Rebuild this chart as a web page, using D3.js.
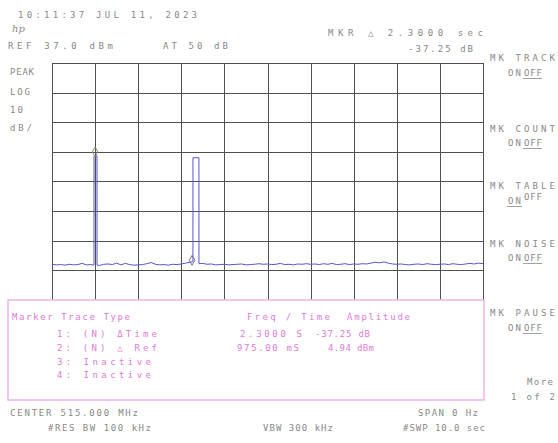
<!DOCTYPE html>
<html>
<head>
<meta charset="utf-8">
<script src="https://cdn.jsdelivr.net/npm/d3@7"></script>
<style>
  body { margin: 0; background: #fff; }
  text { font-family: "DejaVu Sans Mono", monospace; font-size: 9px; }
</style>
</head>
<body>
<script>
// развертка по времени: 0..10 с, 10 дБ/дел, опорный уровень 37 дБм
const sweepTime = [0, 10];
const refLevel = 37.0;
const dbPerDiv = 10;
const timeTicks = [0, 1, 2, 3, 4, 5, 6, 7, 8, 9, 10];
const levelTicks = [37, 27, 17, 7, -3, -13, -23, -33, -43, -53, -63];

// шумовая дорожка, отсчеты через 0.1 с (дБм)
const noiseLevel = [
  -31.0, -31.2, -31.1, -31.3, -31.0, -31.2, -31.1, -30.7, -31.2, -31.1,
  -31.3, -31.4, -31.0, -30.9, -31.1, -30.6, -31.2, -30.7, -31.1, -31.3,
  -31.2, -31.1, -30.8, -30.4, -31.0, -31.2, -31.1, -31.3, -31.0, -31.1,
  -30.9, -30.6, -30.3, -30.1, -30.8, -30.7, -31.0, -30.9, -31.2, -31.1,
  -31.0, -31.2, -31.1, -31.0, -30.9, -31.2, -31.1, -31.0, -30.8, -31.0,
  -30.9, -31.1, -31.0, -30.7, -31.1, -31.0, -31.2, -30.9, -31.0, -30.8,
  -31.0, -30.9, -31.1, -30.8, -31.0, -30.7, -31.1, -31.0, -30.8, -31.1,
  -30.9, -31.0, -30.8, -30.9, -30.6, -30.3, -30.5, -30.2, -30.6, -30.9,
  -31.0, -30.9, -31.1, -31.2, -31.0, -30.9, -31.1, -30.8, -31.0, -31.1,
  -31.0, -30.9, -31.1, -30.8, -31.0, -31.1, -30.9, -30.7, -30.9, -30.6,
  -30.8
];
const noiseStep = 0.1;

// импульсы: начало, конец (с), уровень (дБм)
const pulseStart = [0.975, 3.27];
const pulseEnd = [1.045, 3.41];
const pulseLevel = [5.6, 5.0];

// маркеры
const markerTime = [1.0, 3.25];
const markerLevel = [5.6, -31.0];

// тексты
const dateText = "10:11:37 JUL 11, 2023";
const refText = "REF 37.0 dBm";
const attenText = "AT 50 dB";
const mkrText = "MKR \u25B3 2.3000  sec";
const mkrValueText = "-37.25 dB";
const leftLabels = ["PEAK", "LOG", "10", "dB/"];
const softkeys = ["MK TRACK", "MK COUNT", "MK TABLE", "MK NOISE", "MK PAUSE"];
const softkeyState = ["OFF", "OFF", "ON", "OFF", "OFF"];
const tableHeader = ["Marker Trace Type", "Freq / Time", "Amplitude"];
const tableRows = [
  ["1: (N) \u0394Time", "2.3000  S", "-37.25 dB"],
  ["2: (N) \u25B3 Ref", "975.00 mS", "4.94 dBm"],
  ["3: Inactive", "", ""],
  ["4: Inactive", "", ""]
];
const bottomTexts = ["CENTER 515.000 MHz", "SPAN 0 Hz", "#RES BW 100 kHz", "VBW 300 kHz", "#SWP 10.0  sec"];

const W = 558, H = 443;
const svg = d3.select("body").append("svg").attr("width", W).attr("height", H);

const gLeft = 52, gRight = 483, gTop = 63, gBottom = 359;
const x = d3.scaleLinear().domain(sweepTime).range([gLeft, gRight]);
const y = d3.scaleLinear().domain([refLevel - 10 * dbPerDiv, refLevel]).range([gBottom, gTop]);

const gray = "#888";
const pink = "#e07ad8";
const gridColor = "#505050";
const traceColor = "#5656cc";

// сетка через оси
const gx = svg.append("g").attr("transform", `translate(0,${gBottom})`)
  .call(d3.axisBottom(x).tickValues(timeTicks).tickSize(-(gBottom - gTop)).tickFormat(""));
const gy = svg.append("g").attr("transform", `translate(${gLeft},0)`)
  .call(d3.axisLeft(y).tickValues(levelTicks).tickSize(-(gRight - gLeft)).tickFormat(""));
[gx, gy].forEach(g => {
  g.select(".domain").remove();
  g.selectAll(".tick line").attr("stroke", gridColor).attr("stroke-width", 1).attr("shape-rendering", "crispEdges");
});

// собираем точки трассы
let points = [];
noiseLevel.forEach((v, i) => {
  const t = i * noiseStep;
  let inside = false;
  pulseStart.forEach((s, k) => { if (t >= s && t <= pulseEnd[k]) inside = true; });
  if (!inside) points.push({t: t, v: v});
});
pulseStart.forEach((s, k) => {
  const base = noiseLevel[Math.round(s / noiseStep)];
  const baseEnd = noiseLevel[Math.round(pulseEnd[k] / noiseStep)];
  points.push({t: s, v: base});
  points.push({t: s + 0.001, v: pulseLevel[k]});
  points.push({t: pulseEnd[k] - 0.001, v: pulseLevel[k]});
  points.push({t: pulseEnd[k], v: baseEnd});
});
points.sort((a, b) => a.t - b.t);

const line = d3.line().x(d => x(d.t)).y(d => y(d.v));
svg.append("path")
  .attr("d", line(points))
  .attr("fill", "none")
  .attr("stroke", traceColor)
  .attr("stroke-width", 1);

// маркеры-ромбы
svg.selectAll(".mk").data(markerTime).enter().append("path")
  .attr("class", "mk")
  .attr("d", d3.symbol().type(d3.symbolDiamond).size(28))
  .attr("transform", (d, i) => `translate(${x(d)},${y(markerLevel[i]) - 4})`)
  .attr("fill", "none")
  .attr("stroke", (d, i) => i === 0 ? "#8a8a78" : "#7070a8")
  .attr("stroke-width", 1);

// текст
function label(px, py, s, w, color) {
  const t = svg.append("text").attr("x", px).attr("y", py)
    .attr("fill", color || gray).text(s);
  if (w) t.attr("textLength", w).attr("lengthAdjust", "spacing");
  return t;
}

label(18, 18, dateText, 179);
svg.append("text").attr("x", 12).attr("y", 32).attr("fill", gray)
  .style("font-family", "DejaVu Serif").style("font-style", "italic").style("font-size", "10px").text("hp");
label(8, 49, refText, 105);
label(163, 49, attenText, 65);
label(328, 36, mkrText, 155);
label(408, 52, mkrValueText, 65);

leftLabels.forEach((s, i) => label(10, [75, 95, 113, 131][i], s, [24, 20, 13, 22][i]));

// софт-клавиши справа
const keyY = [58, 129, 186, 244, 313];
const stateY = [73, 143, 201, 258, 328];
softkeys.forEach((s, i) => {
  label(490, keyY[i] + 3, s, 65);
  const offUp = softkeyState[i] === "ON" ? 4 : 0;
  label(508, stateY[i] + 3, "ON", 13);
  label(524, stateY[i] + 3 - offUp, "OFF", 18);
  const ux = softkeyState[i] === "ON" ? 507 : 523;
  const uw = softkeyState[i] === "ON" ? 15 : 19;
  svg.append("line")
    .attr("x1", ux).attr("x2", ux + uw)
    .attr("y1", stateY[i] + 5.5).attr("y2", stateY[i] + 5.5)
    .attr("stroke", gray).attr("stroke-width", 0.8);
});
label(527, 385, "More", 26);
label(511, 400, "1 of 2", 44);

// таблица маркеров
svg.append("rect")
  .attr("x", 8).attr("y", 300).attr("width", 476).attr("height", 100)
  .attr("fill", "#fff").attr("stroke", "#eab4e6").attr("stroke-width", 1.5);
label(12, 320, tableHeader[0], 118, pink);
label(247, 320, tableHeader[1], 83, pink);
label(347, 320, tableHeader[2], 63, pink);
const rowY = [337, 351, 365, 378];
tableRows.forEach((r, i) => {
  label(57, rowY[i], r[0], i < 2 ? 100 : 94, pink);
  if (r[1]) label(i === 0 ? 240 : 237, rowY[i], r[1], 62, pink);
  if (r[2]) label(i === 0 ? 315 : 328, rowY[i], r[2], i === 0 ? 55 : 46, pink);
});

// нижняя строка
label(10, 416, bottomTexts[0], 128);
label(418, 416, bottomTexts[1], 60);
label(48, 431, bottomTexts[2], 103);
label(263, 431, bottomTexts[3], 70);
label(403, 431, bottomTexts[4], 82);
</script>
</body>
</html>
